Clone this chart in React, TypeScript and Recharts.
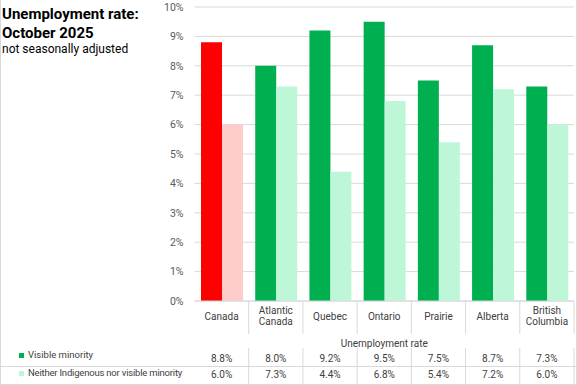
import React from 'react'
import { BarChart, Bar, XAxis, YAxis, CartesianGrid, Cell } from 'recharts'

const categories = ['Canada', 'Atlantic Canada', 'Quebec', 'Ontario', 'Prairie', 'Alberta', 'British Columbia']
const visibleMinority = [8.8, 8.0, 9.2, 9.5, 7.5, 8.7, 7.3]
const neitherGroup = [6.0, 7.3, 4.4, 6.8, 5.4, 7.2, 6.0]
const yTicks = [0, 1, 2, 3, 4, 5, 6, 7, 8, 9, 10]
const seriesNames = ['Visible minority', 'Neither Indigenous nor visible minority']

const data = categories.map((name, i) => ({
  name,
  visible: visibleMinority[i],
  neither: neitherGroup[i],
}))

const W = 577
const H = 385
const PLOT_LEFT = 194.5
const PLOT_RIGHT = 574
const AXIS_Y = 301
const BAND = (PLOT_RIGHT - PLOT_LEFT) / categories.length
const FONT = 'Roboto, "Liberation Sans", sans-serif'
const GRID = '#d9d9d9'
const TXT = '#404040'

const GREEN = '#00b050'
const MINT = '#bdf7d8'
const RED = '#ff0000'
const PINK = '#ffcccc'

const TableTick = ({ x, payload }: any) => {
  const i = payload.index
  const lines = String(payload.value).split(' ')
  const right = x + BAND / 2
  return (
    <g fontFamily={FONT} fontSize={10} fill={TXT}>
      {lines.length === 1 ? (
        <text x={x} y={320} textAnchor="middle">{lines[0]}</text>
      ) : (
        lines.map((l, k) => (
          <text key={k} x={x} y={314 + k * 11} textAnchor="middle">{l}</text>
        ))
      )}
      <text x={x} y={362} textAnchor="middle">{visibleMinority[i].toFixed(1)}%</text>
      <text x={x} y={377.5} textAnchor="middle">{neitherGroup[i].toFixed(1)}%</text>
      <line x1={right} x2={right} y1={AXIS_Y} y2={334} stroke={GRID} />
      <line x1={right} x2={right} y1={348} y2={H} stroke={GRID} />
    </g>
  )
}

export default function App() {
  return (
    <div style={{ position: 'absolute', left: 0, top: 0, width: W, height: H, background: '#fff' }}>
      <BarChart
        width={W}
        height={H}
        data={data}
        margin={{ top: 7, right: W - PLOT_RIGHT, left: 0, bottom: 0 }}
        barCategoryGap="12%"
        barGap={0}
      >
        <CartesianGrid vertical={false} stroke={GRID} />
        <YAxis
          width={PLOT_LEFT}
          domain={[0, 10]}
          ticks={yTicks}
          tickFormatter={(v: number) => `${v}%`}
          axisLine={false}
          tickLine={false}
          tickSize={0}
          tickMargin={11}
          tick={{ fontSize: 10.5, fill: '#595959', fontFamily: FONT }}
        />
        <XAxis
          dataKey="name"
          height={H - AXIS_Y}
          axisLine={{ stroke: GRID }}
          tickLine={false}
          tickSize={0}
          tickMargin={0}
          interval={0}
          tick={<TableTick />}
        />
        <Bar dataKey="visible" isAnimationActive={false}>
          {data.map((d, i) => (
            <Cell key={i} fill={i === 0 ? RED : GREEN} />
          ))}
        </Bar>
        <Bar dataKey="neither" isAnimationActive={false}>
          {data.map((d, i) => (
            <Cell key={i} fill={i === 0 ? PINK : MINT} />
          ))}
        </Bar>
      </BarChart>
      <svg
        width={W}
        height={H}
        style={{ position: 'absolute', left: 0, top: 0, pointerEvents: 'none' }}
      >
        <text x={2} y={18.5} fontFamily={FONT} fontWeight={700} fontSize={15} fill="#000">Unemployment rate:</text>
        <text x={2} y={38} fontFamily={FONT} fontWeight={700} fontSize={15} fill="#000">October 2025</text>
        <text x={2} y={52.5} fontFamily={FONT} fontSize={12} fill="#000">not seasonally adjusted</text>
        <text x={(PLOT_LEFT + PLOT_RIGHT) / 2} y={347} textAnchor="middle" fontFamily={FONT} fontSize={10} fill={TXT}>
          Unemployment rate
        </text>
        <rect x={19} y={353} width={5} height={5} fill={GREEN} />
        <text x={28} y={358} fontFamily={FONT} fontSize={9.5} fill={TXT}>{seriesNames[0]}</text>
        <rect x={19} y={371} width={5} height={5} fill={MINT} />
        <text x={28} y={376} fontFamily={FONT} fontSize={9.5} letterSpacing={-0.2} fill={TXT}>{seriesNames[1]}</text>
        <line x1={0} x2={W} y1={366.5} y2={366.5} stroke={GRID} />
        <line x1={0.5} x2={0.5} y1={0} y2={H} stroke={GRID} />
        <line x1={W - 0.5} x2={W - 0.5} y1={0} y2={H} stroke={GRID} />
        <line x1={0} x2={W} y1={H - 0.5} y2={H - 0.5} stroke={GRID} />
      </svg>
    </div>
  )
}
